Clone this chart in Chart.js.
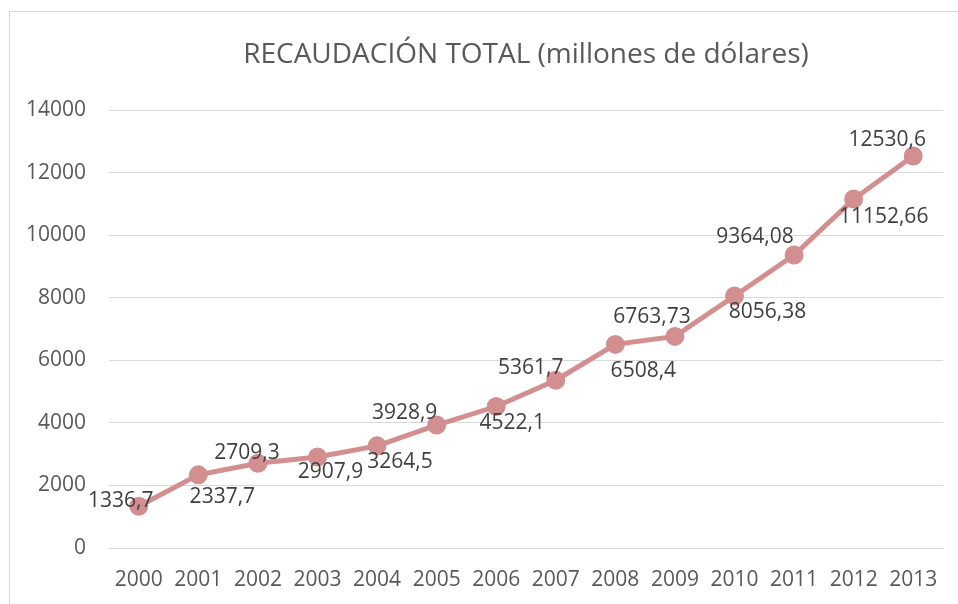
<!DOCTYPE html>
<html>
<head>
<meta charset="utf-8">
<script src="https://cdn.jsdelivr.net/npm/chart.js@4/dist/chart.umd.min.js"></script>
<style>
  html, body { margin: 0; padding: 0; background: #fff; }
  #wrap { position: relative; width: 958px; height: 604px; overflow: hidden; }
  #frame { position: absolute; left: 9px; top: 11px; width: 960px; height: 600px; border: 1px solid #d9d9d9; box-sizing: border-box; }
  #chart { position: absolute; left: 0; top: 0; }
</style>
</head>
<body>
<div id="wrap">
  <div id="frame"></div>
  <canvas id="chart" width="958" height="604"></canvas>
</div>
<script>
var years = ['2000','2001','2002','2003','2004','2005','2006','2007','2008','2009','2010','2011','2012','2013'];
var recaudacion = [1336.7, 2337.7, 2709.3, 2907.9, 3264.5, 3928.9, 4522.1, 5361.7, 6508.4, 6763.73, 8056.38, 9364.08, 11152.66, 12530.6];
var yTicks = [0, 2000, 4000, 6000, 8000, 10000, 12000, 14000];
var chartTitle = 'RECAUDACIÓN TOTAL (millones de dólares)';

// where each data label sits relative to its marker (px)
var labelShift = [
  [-18, -5], [24, 22], [-11, -10], [13, 15], [23, 16], [-32, -12], [16, 16],
  [-25, -12], [28, 27], [-23, -19], [33, 16], [-39, -18], [30, 18], [-26, -16]
];

function fmt(v) {
  return String(v).replace('.', ',');
}

// title centred over the plot area, like the Excel original
var plotTitle = {
  id: 'plotTitle',
  afterDraw: function(chart) {
    var ctx = chart.ctx;
    var area = chart.chartArea;
    ctx.save();
    ctx.font = '28px "Open Sans"';
    ctx.fillStyle = '#595959';
    ctx.textAlign = 'center';
    ctx.textBaseline = 'middle';
    ctx.fillText(chartTitle, (area.left + area.right) / 2, 55);
    ctx.restore();
  }
};

var dataLabels = {
  id: 'dataLabels',
  afterDatasetsDraw: function(chart) {
    var ctx = chart.ctx;
    var meta = chart.getDatasetMeta(0);
    ctx.save();
    ctx.font = '21px "Open Sans"';
    ctx.fillStyle = '#404040';
    ctx.textAlign = 'center';
    ctx.textBaseline = 'middle';
    meta.data.forEach(function(pt, i) {
      ctx.fillText(fmt(recaudacion[i]), pt.x + labelShift[i][0], pt.y + labelShift[i][1]);
    });
    ctx.restore();
  }
};

var ctx1 = document.getElementById('chart');
var chart = new Chart(ctx1, {
  type: 'line',
  data: {
    labels: years,
    datasets: [{
      label: 'Recaudación',
      data: recaudacion,
      borderColor: '#d38f8f',
      backgroundColor: '#d38f8f',
      borderWidth: 5,
      pointRadius: 7,
      pointHoverRadius: 7,
      fill: false,
      tension: 0
    }]
  },
  options: {
    responsive: false,
    animation: false,
    layout: { padding: { left: 0, right: 15, top: 110, bottom: 0 } },
    plugins: {
      legend: { display: false },
      tooltip: { enabled: false },
      title: { display: false }
    },
    scales: {
      x: {
        offset: true,
        afterFit: function(scale) { scale.height = 56; },
        grid: { display: false, drawTicks: false },
        border: { display: true, color: '#d9d9d9' },
        ticks: {
          color: '#595959',
          font: { family: 'Open Sans', size: 21 },
          padding: 19,
          maxRotation: 0,
          autoSkip: false
        }
      },
      y: {
        min: 0,
        max: 14000,
        afterBuildTicks: function(scale) {
          scale.ticks = yTicks.map(function(v) { return { value: v }; });
        },
        afterFit: function(scale) { scale.width = 109; },
        grid: { color: '#d9d9d9', lineWidth: 1, drawTicks: false },
        border: { display: false },
        ticks: {
          color: '#595959',
          font: { family: 'Open Sans', size: 21 },
          padding: 23,
          callback: function(v) { return String(v); }
        }
      }
    }
  },
  plugins: [plotTitle, dataLabels]
});
</script>
</body>
</html>
